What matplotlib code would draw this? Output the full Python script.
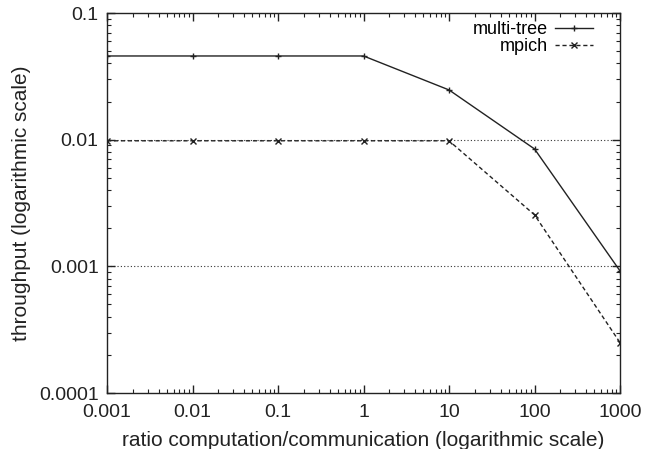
import matplotlib
matplotlib.use("Agg")
import matplotlib.pyplot as plt
from matplotlib.ticker import LogLocator, FixedLocator, NullFormatter

ratio = [0.001, 0.01, 0.1, 1, 10, 100, 1000]
multi_tree = [0.0458, 0.0458, 0.0458, 0.0458, 0.0247, 0.00845, 0.00092]
mpich = [0.0098, 0.0098, 0.0098, 0.0098, 0.0098, 0.00255, 0.00025]
xticks = [0.001, 0.01, 0.1, 1, 10, 100, 1000]
xticklabels = ["0.001", "0.01", "0.1", "1", "10", "100", "1000"]
yticks = [0.0001, 0.001, 0.01, 0.1]
yticklabels = ["0.0001", "0.001", "0.01", "0.1"]

plt.rcParams['font.family'] = ['Liberation Sans', 'DejaVu Sans']

fig = plt.figure(figsize=(6.53, 4.49), dpi=100)
ax = fig.add_axes([0.1639, 0.1247, 0.9495 - 0.1639, 0.971 - 0.1247])

ax.plot(ratio, multi_tree, color='#222222', lw=1.0, ls='-', marker='+', ms=5, mew=1.0, label='multi-tree')
ax.plot(ratio, mpich, color='#222222', lw=1.0, ls=(0, (3, 2)), marker='x', ms=4, mew=1.0, label='mpich')

ax.set_xscale('log')
ax.set_yscale('log')
ax.set_xlim(0.001, 1000)
ax.set_ylim(0.0001, 0.1)

ax.xaxis.set_major_locator(FixedLocator(xticks))
ax.set_xticklabels(xticklabels)
ax.yaxis.set_major_locator(FixedLocator(yticks))
ax.set_yticklabels(yticklabels)
ax.xaxis.set_minor_locator(LogLocator(base=10, subs=range(2, 10), numticks=20))
ax.yaxis.set_minor_locator(LogLocator(base=10, subs=range(2, 10), numticks=20))
ax.xaxis.set_minor_formatter(NullFormatter())
ax.yaxis.set_minor_formatter(NullFormatter())

for y in [0.001, 0.01]:
    ax.axhline(y, color='#333333', lw=0.8, ls=(0, (1, 2)), zorder=0)

ax.tick_params(which='both', direction='in', top=True, right=True, labelsize=14, colors='#222222')
ax.tick_params(which='major', length=6, width=1)
ax.tick_params(which='minor', length=3, width=0.8)
ax.tick_params(axis='x', which='major', pad=8)
ax.tick_params(axis='y', which='major', pad=6)
for s in ax.spines.values():
    s.set_linewidth(1.0)
    s.set_color('#222222')

ax.set_xlabel('ratio computation/communication (logarithmic scale)', fontsize=15, color='#222222', labelpad=7)
ax.set_ylabel('throughput (logarithmic scale)', fontsize=15, color='#222222', labelpad=6)

ax.legend(loc='upper right', bbox_to_anchor=(0.947, 0.978), frameon=False, markerfirst=False,
          fontsize=13, handlelength=2.1, borderaxespad=0, labelspacing=0.0,
          handletextpad=0.4, borderpad=0)

fig.savefig('out.png', dpi=100)
